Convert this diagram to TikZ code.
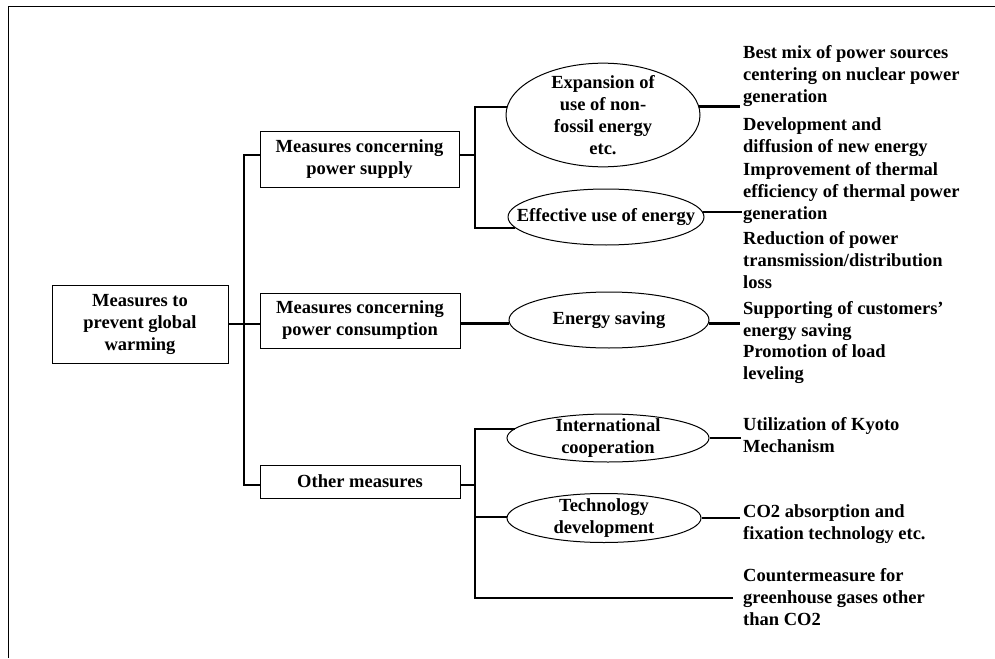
\documentclass[tikz,border=0pt]{standalone}
\usepackage{fontspec}
\setmainfont{Liberation Serif}
\usetikzlibrary{shapes.geometric}
\begin{document}
\begin{tikzpicture}[x=1pt,y=-1pt,
  every node/.style={font=\bfseries\fontsize{18.5}{22}\selectfont},
  boxn/.style={draw,line width=0.8pt,inner sep=0pt,align=center},
  ell/.style={draw,ellipse,line width=1pt,inner sep=0pt,align=center},
  item/.style={anchor=west,inner sep=0pt,align=left},
  conn/.style={line width=2.8pt},
  frame/.style={line width=1pt}]
\useasboundingbox (0,0) rectangle (995,658);
\draw[frame] (8,658) -- (8,7) -- (995,7);
% boxes
\node[boxn,minimum width=176pt,minimum height=78pt] (root) at (140,324) {Measures to\\prevent global\\warming};
\node[boxn,minimum width=199pt,minimum height=56pt] (b1) at (359.5,159) {Measures concerning\\power supply};
\node[boxn,minimum width=200pt,minimum height=55pt] (b2) at (360,320.5) {Measures concerning\\power consumption};
\node[boxn,minimum width=200pt,minimum height=33pt] (b3) at (360,481.5) {Other measures};
% ellipses
\node[ell,minimum width=194pt,minimum height=96pt,inner ysep=-3pt] (e1) at (603,115) {Expansion of\\use of non-\\fossil energy\\etc.};
\node[ell,minimum width=196pt,minimum height=56pt,inner xsep=-22pt] (e2) at (606,217) {Effective use of energy};
\node[ell,minimum width=200pt,minimum height=56pt] (e3) at (609,320) {Energy saving};
\node[ell,minimum width=202pt,minimum height=48pt,inner ysep=-5.5pt] (e4) at (608,438) {International\\cooperation};
\node[ell,minimum width=194pt,minimum height=49pt,inner ysep=-5.5pt] (e5) at (604,518) {Technology\\development};
% items
\node[item] (t1) at (743,76) {Best mix of power sources\\centering on nuclear power\\generation};
\node[item] (t2) at (743,137.5) {Development and\\diffusion of new energy};
\node[item] (t3) at (743,193) {Improvement of thermal\\efficiency of thermal power\\generation};
\node[item] (t4) at (743,260) {Reduction of power\\transmission/distribution\\loss};
\node[item] (t5) at (743,321) {Supporting of customers'\\energy saving};
\node[item] (t6) at (743,364) {Promotion of load\\leveling};
\node[item] (t7) at (743,435) {Utilization of Kyoto\\Mechanism};
\node[item] (t8) at (743,524) {CO2 absorption and\\fixation technology etc.};
\node[item] (t9) at (743,597) {Countermeasure for\\greenhouse gases other\\than CO2};
% junctions
\coordinate (j1) at (244,155);
\coordinate (j3) at (244,485);
\coordinate (k0) at (475,155);
\coordinate (k1) at (475,107);
\coordinate (k2) at (475,228);
\coordinate (m0) at (475,485);
\coordinate (m1) at (475,429);
\coordinate (m2) at (475,517);
\coordinate (m3) at (475,598);
% trunk
\draw[conn] (b1.west |- j1) -- (j1) -- (j3) -- (b3.west |- j3);
\draw[conn] (root.east) -- (b2.west |- root.east);
% supply bracket
\draw[conn] (b1.east |- k0) -- (k0);
\draw[conn] (k1 -| e1.175) -- (k1) -- (k2) -- (k2 -| e2.187);
% consumption
\draw[conn] (b2.east |- e3.182) -- (e3.182);
% other bracket
\draw[conn] (b3.east |- m0) -- (m0);
\draw[conn] (m1 -| e4.174) -- (m1) -- (m3) -- ([xshift=-10pt]t9.west |- m3);
\draw[conn] (m2) -- (e5.west |- m2);
% to items
\draw[conn] (e1.5) -- ([xshift=-3pt]t1.west |- e1.5);
\draw[conn] (e2.3) -- ([xshift=-1pt]t3.west |- e2.3);
\draw[conn] (e3.358) -- ([xshift=-3pt]t5.west |- e3.358);
\draw[conn] (e4.east) -- ([xshift=-2pt]t7.west |- e4.east);
\draw[conn] (e5.east) -- ([xshift=-3pt]t8.west |- e5.east);
\end{tikzpicture}
\end{document}
